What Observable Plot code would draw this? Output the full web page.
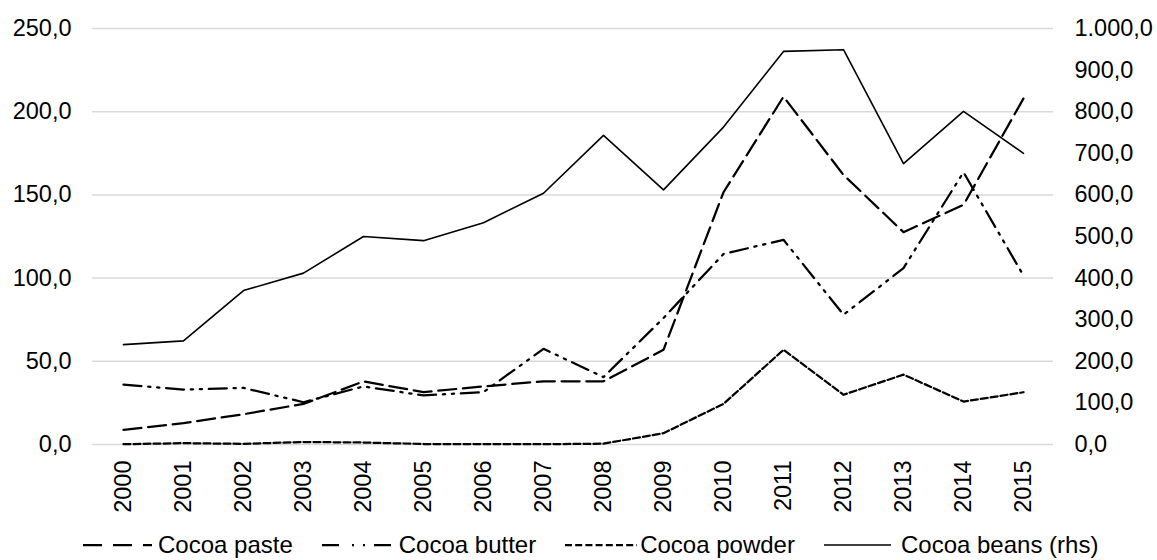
<!DOCTYPE html>
<html>
<head>
<meta charset="utf-8">
<script src="https://cdn.jsdelivr.net/npm/d3@7"></script>
<script src="https://cdn.jsdelivr.net/npm/@observablehq/plot@0.6"></script>
<style>
  html, body { margin: 0; padding: 0; background: #fff; overflow: hidden; }
  #chart { width: 1157px; height: 560px; position: relative; overflow: hidden; font-family: "Liberation Sans", Arial, sans-serif; }
  #legend { position: absolute; left: 0; top: 530px; width: 1157px; height: 30px; display: flex; justify-content: flex-start; align-items: center; padding-left: 83px; box-sizing: border-box; font-size: 24px; line-height: 28px; color: #000; white-space: nowrap; }
  .item { display: flex; align-items: center; margin-right: 29px; }
</style>
</head>
<body>
<div id="chart"><div id="plot"></div><div id="legend"></div></div>
<script>
const years = ["2000","2001","2002","2003","2004","2005","2006","2007","2008","2009","2010","2011","2012","2013","2014","2015"];
const cocoaPaste  = [8.8, 12.8, 18.2, 24.4, 37.9, 31.5, 34.9, 38.0, 38.0, 56.9, 151.6, 209.0, 162.0, 127.6, 144.0, 208.0];
const cocoaButter = [36.0, 33.0, 34.0, 25.4, 34.9, 29.5, 31.5, 57.5, 40.5, 76.0, 114.5, 123.0, 78.0, 106.0, 163.6, 101.5];
const cocoaPowder = [0.2, 0.8, 0.4, 1.5, 1.2, 0.3, 0.3, 0.2, 0.5, 6.8, 24.4, 56.9, 29.9, 42.0, 25.8, 31.4];
const cocoaBeans  = [240, 249, 370, 412, 500, 490, 533, 604, 743, 612, 763, 945, 949, 675, 801, 700]; // rhs
const leftTicks  = [0, 50, 100, 150, 200, 250];
const rightTicks = [0, 100, 200, 300, 400, 500, 600, 700, 800, 900, 1000];
const seriesNames = ["Cocoa paste", "Cocoa butter", "Cocoa powder", "Cocoa beans (rhs)"];

const ratio = 1000 / 250; // rhs max / lhs max
const fmt = d3.formatLocale({decimal: ",", thousands: ".", grouping: [3], currency: ["", "€"]}).format(",.1f");

const rows = years.map((y, i) => ({year: y, paste: cocoaPaste[i], butter: cocoaButter[i], powder: cocoaPowder[i], beans: cocoaBeans[i]}));

const styles = [
  {width: 2.25, dash: "18,6.75", legendDash: "19,11", sample: 69, gap: 6},
  {width: 2.25, dash: "18,6.75,2.25,6.75,2.25,6.75", legendDash: "17,13,2,9,2,9", sample: 71, gap: 6},
  {width: 2.25, dash: "7,3", legendDash: "7,3.2", sample: 72, gap: 3},
  {width: 1.6,  dash: null, legendDash: null, sample: 67, gap: 10}
];

const plot = Plot.plot({
  width: 1157,
  height: 530,
  marginTop: 28,
  marginBottom: 86,
  marginLeft: 92,
  marginRight: 104,
  style: {fontFamily: "Liberation Sans, Arial, sans-serif", fontSize: "23.5px", color: "#000", background: "#fff"},
  x: {type: "point", domain: years, padding: 0.5},
  y: {domain: [0, 250]},
  marks: [
    Plot.ruleY(leftTicks, {stroke: "#d9d9d9", strokeWidth: 1.5}),
    Plot.axisY(leftTicks, {anchor: "left", tickFormat: fmt, tickSize: 0, tickPadding: 21, label: null}),
    Plot.axisY(rightTicks.map(d => d / ratio), {anchor: "right", tickFormat: d => fmt(d * ratio), tickSize: 0, tickPadding: 21, label: null}),
    Plot.axisX({tickRotate: -90, tickSize: 0, tickPadding: 16, label: null}),
    Plot.line(rows, {x: "year", y: d => d.beans / ratio, stroke: "#000", strokeWidth: styles[3].width, strokeLinejoin: "round"}),
    Plot.line(rows, {x: "year", y: "powder", stroke: "#000", strokeWidth: styles[2].width, strokeDasharray: styles[2].dash, strokeLinejoin: "round"}),
    Plot.line(rows, {x: "year", y: "butter", stroke: "#000", strokeWidth: styles[1].width, strokeDasharray: styles[1].dash, strokeLinejoin: "round"}),
    Plot.line(rows, {x: "year", y: "paste", stroke: "#000", strokeWidth: styles[0].width, strokeDasharray: styles[0].dash, strokeLinejoin: "round"})
  ]
});
document.getElementById("plot").appendChild(plot);

const legend = d3.select("#legend");
seriesNames.forEach((name, i) => {
  const it = legend.append("div").attr("class", "item");
  const s = it.append("svg").attr("width", styles[i].sample).attr("height", 10).style("margin-right", styles[i].gap + "px");
  s.append("line").attr("x1", 0).attr("x2", styles[i].sample).attr("y1", 5).attr("y2", 5)
    .attr("stroke", "#000").attr("stroke-width", styles[i].width)
    .attr("stroke-dasharray", styles[i].legendDash);
  it.append("span").text(name);
});
</script>
</body>
</html>
